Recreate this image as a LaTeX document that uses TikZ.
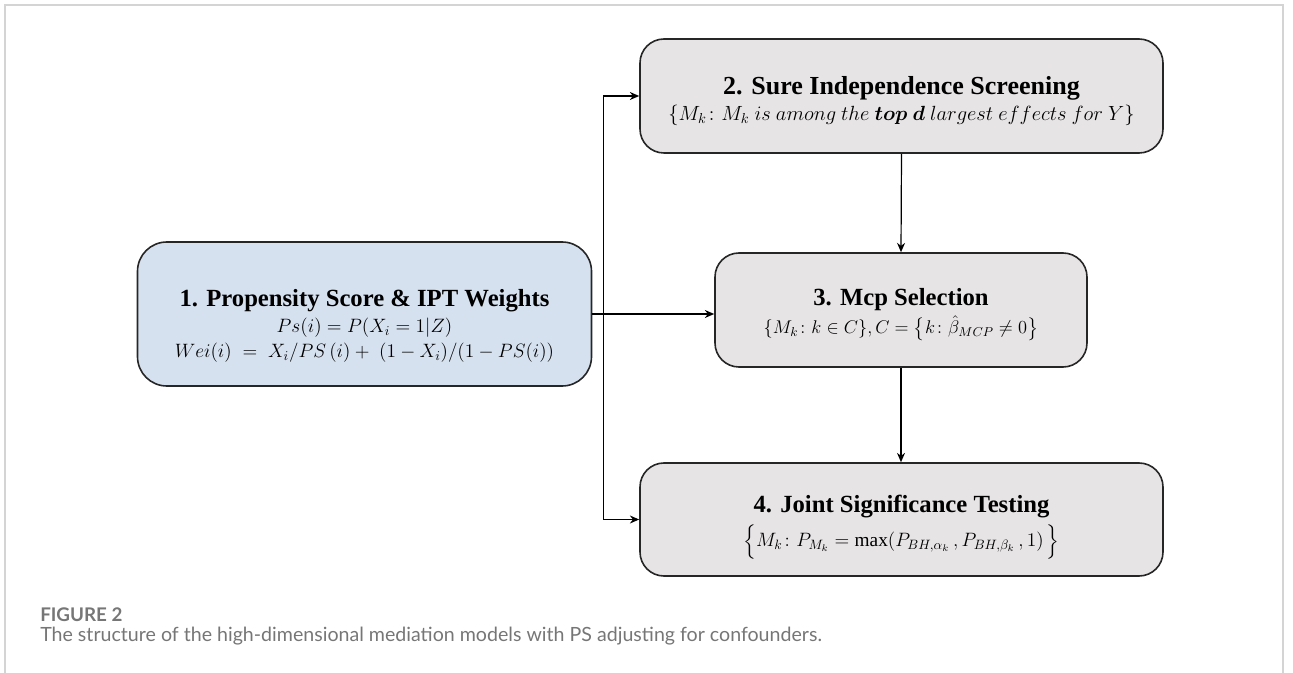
\documentclass[tikz,border=0pt]{standalone}
\usepackage{fix-cm}
\usepackage{amsmath,bm}
\usepackage{fontspec}
\setmainfont{Liberation Serif}
\newfontfamily\capfont{Lato}
\usetikzlibrary{arrows.meta}
\definecolor{boxblue}{RGB}{214,225,240}
\definecolor{boxgray}{RGB}{231,228,230}
\definecolor{framegray}{RGB}{212,212,212}
\definecolor{capgray}{RGB}{118,118,118}
\newcommand\stagetitle[1]{{\fontsize{18.5}{19}\selectfont\bfseries #1}}
\newcommand\lift[1]{\rule{0pt}{#1}}
\tikzset{
  stage/.style={draw=black!85, line width=1.2pt, rounded corners=18pt, fill=boxgray, align=center, inner sep=0pt,
    font=\fontsize{14.5}{19}\selectfont},
  link/.style={line width=0.9pt, -{Stealth[length=7pt,width=6pt]}},
}
\begin{document}
\begin{tikzpicture}[x=0.75pt,y=-0.75pt]
\useasboundingbox (0,0) rectangle (1293,673);
\draw[framegray, line width=0.8pt] (5,673) -- (5,5) -- (1283,5) -- (1283,673);

% stages
\node[stage, fill=boxblue, rounded corners=22pt, minimum width=340.5pt, minimum height=108pt] (ipw) at (364.5,314)
  {\lift{31pt}\stagetitle{1. Propensity Score \& IPT Weights}\\
   $Ps(i)=P(X_i=1|Z)$\\
   $Wei(i)\;=\;X_i/PS\,(i)+\;(1-X_i)/(1-PS(i))$};
\node[stage, minimum width=392.25pt, minimum height=85.5pt, font=\fontsize{15.4}{19}\selectfont] (sis) at (901.5,96)
  {\lift{21pt}{\fontsize{19.5}{19}\selectfont\bfseries 2. Sure Independence Screening}\\
   $\{M_k\colon M_k\ is\ among\ the\ \bm{top\ d}\ largest\ effects\ for\ Y\}$};
\node[stage, minimum width=279pt, minimum height=85.5pt, font=\fontsize{13.8}{21}\selectfont] (mcp) at (901,310)
  {\lift{19.5pt}\stagetitle{3. Mcp Selection}\\
   $\{M_k\colon k\in C\},C=\bigl\{k\colon\hat{\beta}_{MCP}\neq 0\bigr\}$};
\node[stage, minimum width=392.25pt, minimum height=84.75pt] (jst) at (901.5,519.5)
  {\lift{24pt}\stagetitle{4. Joint Significance Testing}\\[4pt]
   $\Bigl\{M_k\colon P_{M_k}=\max(P_{BH,\alpha_k}\,,P_{BH,\beta_k}\,,1)\,\Bigr\}$};

% connectors
\coordinate (fork) at ([xshift=8.25pt]ipw.east);
\draw[line width=0.9pt] (ipw.east) -- (fork);
\draw[link] (fork) |- (sis.west);
\draw[link] (fork) -- (fork -| mcp.west);
\draw[link] (fork) |- (jst.west);
\draw[link] (sis.south) -- (mcp.north);
\draw[link] (mcp.south) -- (mcp.south |- jst.north);

% caption
\node[anchor=base west, inner sep=0pt, text=capgray] (figno) at (40,621)
  {\capfont\fontsize{14.1}{17}\selectfont\bfseries FIGURE 2};
\node[anchor=base west, inner sep=0pt, text=capgray] (figcap) at (40,641)
  {\capfont\fontsize{14.7}{18}\selectfont The structure of the high-dimensional mediation models with PS adjusting for confounders.};
\end{tikzpicture}
\end{document}
